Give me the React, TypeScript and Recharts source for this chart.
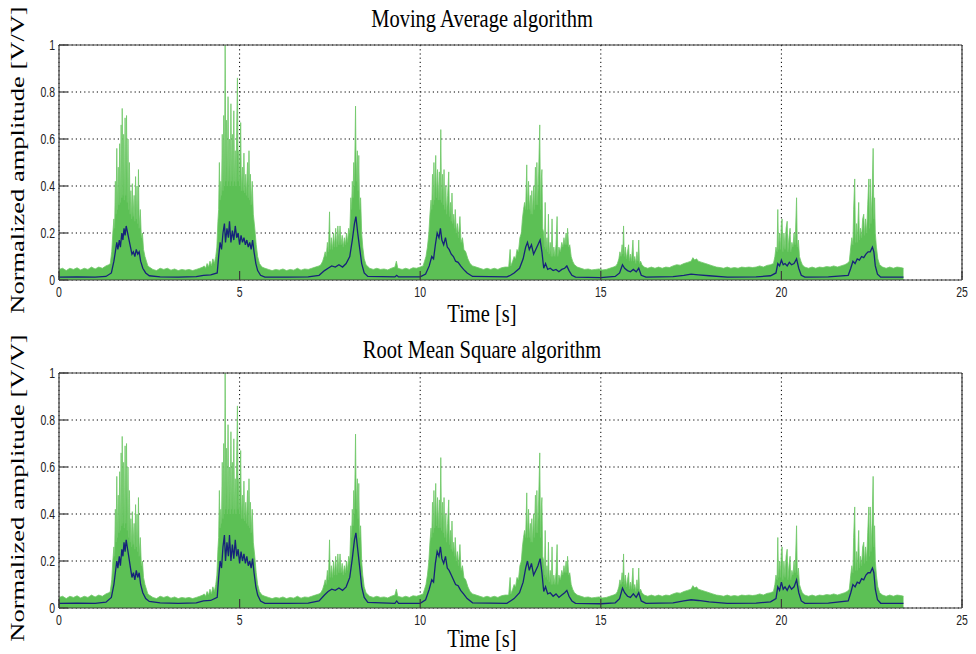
import React from 'react';
import { ComposedChart, Area, Line, XAxis, YAxis, CartesianGrid } from 'recharts';

type P = [number, number];

const timeTicks = [0, 5, 10, 15, 20, 25];
const ampTicks = [0, 0.2, 0.4, 0.6, 0.8, 1];
const panelTitles = ['Moving Average algorithm', 'Root Mean Square algorithm'];
const xLabel = 'Time [s]';
const yLabel = 'Normalized amplitude [V/V]';

// rectified EMG (green), segment by segment
const rest0: P[] = [[0,0.045],[0.1,0.05],[0.2,0.04],[0.3,0.05],[0.4,0.045],[0.5,0.052],[0.6,0.043],[0.7,0.05],[0.8,0.045],[0.9,0.055],[1.0,0.047],[1.1,0.055],[1.2,0.05],[1.3,0.06],[1.38,0.065]];
const burst1: P[] = [[1.42,0.07],[1.46,0.12],[1.49,0.2],[1.52,0.26],[1.54,0.22],[1.56,0.42],[1.58,0.28],[1.6,0.56],[1.62,0.3],[1.64,0.48],[1.66,0.32],[1.68,0.58],[1.7,0.33],[1.72,0.66],[1.74,0.35],[1.75,0.73],[1.77,0.36],[1.79,0.62],[1.81,0.34],[1.83,0.69],[1.85,0.36],[1.87,0.7],[1.89,0.33],[1.91,0.6],[1.93,0.3],[1.95,0.5],[1.97,0.28],[1.99,0.38],[2.01,0.26],[2.03,0.41],[2.05,0.27],[2.08,0.36],[2.1,0.25],[2.12,0.44],[2.14,0.26],[2.16,0.4],[2.18,0.24],[2.2,0.47],[2.22,0.22],[2.25,0.3],[2.28,0.18],[2.31,0.2],[2.34,0.13],[2.38,0.1],[2.42,0.08],[2.46,0.06],[2.5,0.055]];
const rest1: P[] = [[2.6,0.045],[2.7,0.04],[2.8,0.05],[2.9,0.045],[3.0,0.05],[3.1,0.042],[3.2,0.047],[3.3,0.04],[3.4,0.045],[3.5,0.042],[3.6,0.045],[3.7,0.04],[3.8,0.045],[3.9,0.05],[3.98,0.055]];
const burst2: P[] = [[4.02,0.06],[4.06,0.05],[4.1,0.07],[4.14,0.055],[4.18,0.08],[4.22,0.06],[4.26,0.09],[4.3,0.07],[4.34,0.1],[4.37,0.14],[4.4,0.25],[4.42,0.3],[4.44,0.5],[4.46,0.34],[4.48,0.42],[4.5,0.36],[4.52,0.62],[4.54,0.38],[4.56,0.7],[4.58,0.4],[4.6,1.0],[4.62,0.42],[4.64,0.68],[4.66,0.4],[4.68,0.78],[4.7,0.42],[4.72,0.6],[4.74,0.4],[4.76,0.75],[4.78,0.42],[4.8,0.62],[4.82,0.4],[4.84,0.72],[4.86,0.42],[4.88,0.55],[4.9,0.4],[4.92,0.65],[4.94,0.86],[4.96,0.42],[4.98,0.55],[5.0,0.4],[5.03,0.67],[5.05,0.38],[5.08,0.48],[5.1,0.38],[5.12,0.54],[5.14,0.37],[5.17,0.45],[5.19,0.36],[5.22,0.5],[5.24,0.35],[5.26,0.55],[5.28,0.34],[5.3,0.45],[5.32,0.32],[5.35,0.42],[5.38,0.28],[5.42,0.22],[5.46,0.15],[5.5,0.1],[5.55,0.07],[5.62,0.055],[5.7,0.05]];
const rest2: P[] = [[5.8,0.045],[5.9,0.04],[6.0,0.045],[6.1,0.042],[6.2,0.047],[6.3,0.04],[6.4,0.045],[6.5,0.042],[6.6,0.05],[6.7,0.042],[6.8,0.047],[6.9,0.045],[7.0,0.05],[7.1,0.055],[7.2,0.06]];
const burst3: P[] = [[7.25,0.065],[7.3,0.08],[7.34,0.1],[7.37,0.12],[7.4,0.1],[7.43,0.16],[7.46,0.12],[7.49,0.29],[7.51,0.13],[7.54,0.18],[7.57,0.13],[7.6,0.2],[7.63,0.14],[7.66,0.22],[7.69,0.14],[7.72,0.23],[7.75,0.15],[7.78,0.23],[7.81,0.15],[7.84,0.19],[7.87,0.14],[7.9,0.18],[7.93,0.15],[7.96,0.2],[7.99,0.16],[8.02,0.22],[8.05,0.2],[8.08,0.35],[8.1,0.3],[8.12,0.42],[8.14,0.35],[8.16,0.5],[8.18,0.4],[8.21,0.74],[8.23,0.42],[8.26,0.55],[8.28,0.38],[8.3,0.53],[8.32,0.3],[8.35,0.35],[8.38,0.2],[8.41,0.14],[8.45,0.09],[8.5,0.065]];
const rest3: P[] = [[8.6,0.05],[8.7,0.045],[8.8,0.05],[8.9,0.045],[9.0,0.047],[9.1,0.043],[9.2,0.05],[9.3,0.055],[9.34,0.08],[9.38,0.05],[9.5,0.045],[9.6,0.05],[9.7,0.045],[9.8,0.052],[9.9,0.05],[10.0,0.055]];
const burst4: P[] = [[10.08,0.06],[10.12,0.08],[10.16,0.1],[10.2,0.14],[10.24,0.2],[10.27,0.28],[10.3,0.34],[10.32,0.3],[10.34,0.45],[10.36,0.32],[10.38,0.5],[10.4,0.34],[10.43,0.53],[10.45,0.35],[10.48,0.47],[10.5,0.34],[10.53,0.46],[10.55,0.34],[10.57,0.64],[10.59,0.33],[10.62,0.45],[10.64,0.32],[10.66,0.47],[10.68,0.3],[10.71,0.4],[10.73,0.28],[10.76,0.36],[10.79,0.46],[10.81,0.27],[10.84,0.33],[10.86,0.25],[10.88,0.37],[10.9,0.24],[10.93,0.28],[10.95,0.22],[10.97,0.3],[11.0,0.2],[11.03,0.24],[11.06,0.18],[11.1,0.27],[11.13,0.16],[11.17,0.18],[11.21,0.13],[11.26,0.12],[11.32,0.09],[11.38,0.07],[11.45,0.06],[11.55,0.055]];
const rest4: P[] = [[11.65,0.05],[11.75,0.045],[11.85,0.05],[11.95,0.045],[12.05,0.05],[12.15,0.045],[12.25,0.052],[12.35,0.055]];
const burst5: P[] = [[12.45,0.055],[12.49,0.13],[12.51,0.06],[12.56,0.08],[12.6,0.1],[12.64,0.09],[12.68,0.13],[12.72,0.12],[12.76,0.18],[12.8,0.2],[12.83,0.26],[12.86,0.3],[12.89,0.33],[12.92,0.3],[12.95,0.49],[12.97,0.3],[13.0,0.42],[13.02,0.3],[13.05,0.36],[13.07,0.28],[13.09,0.38],[13.11,0.28],[13.14,0.4],[13.16,0.3],[13.19,0.48],[13.21,0.32],[13.23,0.5],[13.25,0.32],[13.28,0.46],[13.31,0.66],[13.33,0.3],[13.35,0.42],[13.37,0.47],[13.39,0.22],[13.42,0.2],[13.44,0.14],[13.46,0.33],[13.48,0.13],[13.51,0.18],[13.53,0.12],[13.55,0.28],[13.57,0.11],[13.6,0.16],[13.63,0.1],[13.65,0.26],[13.67,0.1],[13.7,0.14],[13.73,0.1],[13.76,0.15],[13.79,0.27],[13.81,0.1],[13.84,0.14],[13.88,0.12],[13.92,0.16],[13.95,0.14],[13.98,0.18],[14.01,0.15],[14.04,0.2],[14.06,0.15],[14.08,0.22],[14.11,0.14],[14.14,0.15],[14.18,0.1],[14.22,0.08],[14.27,0.065],[14.35,0.055]];
const rest5: P[] = [[14.45,0.05],[14.55,0.045],[14.65,0.047],[14.75,0.043],[14.85,0.045],[14.95,0.047],[15.05,0.043],[15.15,0.045],[15.25,0.05],[15.35,0.055]];
const burst6: P[] = [[15.42,0.06],[15.46,0.07],[15.5,0.09],[15.53,0.12],[15.56,0.1],[15.59,0.15],[15.61,0.11],[15.63,0.23],[15.65,0.1],[15.68,0.14],[15.71,0.09],[15.74,0.12],[15.77,0.15],[15.79,0.08],[15.82,0.11],[15.85,0.08],[15.89,0.17],[15.91,0.08],[15.94,0.1],[15.97,0.07],[16.0,0.12],[16.03,0.08],[16.05,0.17],[16.07,0.07],[16.1,0.08],[16.14,0.065],[16.2,0.055]];
const rest6: P[] = [[16.3,0.05],[16.4,0.055],[16.5,0.05],[16.6,0.055],[16.7,0.05],[16.8,0.055],[16.9,0.053],[17.0,0.06],[17.1,0.065],[17.2,0.063],[17.3,0.07],[17.4,0.075],[17.5,0.08],[17.55,0.095],[17.6,0.085],[17.65,0.09],[17.7,0.08],[17.8,0.075],[17.9,0.07],[18.0,0.065],[18.1,0.06],[18.2,0.055],[18.3,0.053],[18.4,0.05],[18.5,0.055],[18.6,0.05],[18.7,0.053],[18.8,0.05],[18.9,0.055],[19.0,0.053],[19.1,0.055],[19.2,0.053],[19.3,0.055],[19.4,0.06],[19.5,0.055],[19.6,0.062],[19.7,0.065]];
const burst7: P[] = [[19.78,0.07],[19.82,0.1],[19.85,0.14],[19.88,0.12],[19.9,0.3],[19.92,0.13],[19.95,0.2],[19.97,0.13],[20.0,0.24],[20.02,0.26],[20.04,0.12],[20.07,0.2],[20.1,0.13],[20.13,0.22],[20.16,0.25],[20.18,0.12],[20.21,0.18],[20.24,0.22],[20.26,0.12],[20.29,0.16],[20.32,0.14],[20.35,0.2],[20.38,0.15],[20.42,0.35],[20.44,0.14],[20.47,0.17],[20.5,0.1],[20.54,0.08],[20.58,0.065],[20.64,0.055]];
const rest7: P[] = [[20.75,0.05],[20.85,0.055],[20.95,0.05],[21.05,0.055],[21.15,0.053],[21.25,0.057],[21.35,0.055],[21.45,0.06],[21.55,0.055],[21.65,0.06],[21.75,0.065],[21.82,0.07]];
const burst8: P[] = [[21.88,0.08],[21.92,0.14],[21.95,0.18],[21.98,0.15],[22.0,0.3],[22.03,0.43],[22.05,0.16],[22.08,0.24],[22.1,0.16],[22.14,0.33],[22.16,0.17],[22.19,0.22],[22.22,0.18],[22.25,0.26],[22.28,0.28],[22.3,0.19],[22.33,0.26],[22.36,0.2],[22.39,0.32],[22.42,0.43],[22.44,0.22],[22.46,0.43],[22.48,0.24],[22.51,0.36],[22.54,0.56],[22.56,0.26],[22.58,0.35],[22.6,0.2],[22.63,0.14],[22.67,0.09],[22.72,0.065]];
const rest8: P[] = [[22.8,0.055],[22.9,0.05],[23.0,0.055],[23.1,0.05],[23.2,0.055],[23.3,0.053],[23.38,0.05]];

// envelope from the Moving Average algorithm (top panel, blue)
const movingAvg: P[] = [[0,0.012],[0.5,0.013],[1.0,0.012],[1.3,0.015],[1.45,0.03],[1.52,0.08],[1.56,0.12],[1.6,0.16],[1.63,0.13],[1.67,0.17],[1.7,0.14],[1.74,0.2],[1.77,0.17],[1.8,0.22],[1.83,0.19],[1.86,0.23],[1.9,0.2],[1.94,0.17],[1.98,0.14],[2.02,0.11],[2.06,0.12],[2.1,0.1],[2.14,0.13],[2.18,0.11],[2.22,0.12],[2.26,0.08],[2.32,0.05],[2.4,0.03],[2.5,0.018],[2.8,0.013],[3.3,0.012],[3.8,0.014],[4.0,0.02],[4.2,0.022],[4.38,0.03],[4.42,0.1],[4.46,0.16],[4.5,0.13],[4.54,0.2],[4.58,0.24],[4.61,0.16],[4.65,0.22],[4.69,0.18],[4.72,0.25],[4.76,0.16],[4.8,0.21],[4.84,0.17],[4.88,0.23],[4.92,0.18],[4.96,0.2],[5.0,0.15],[5.04,0.19],[5.08,0.16],[5.12,0.18],[5.16,0.15],[5.2,0.17],[5.24,0.14],[5.28,0.16],[5.32,0.13],[5.36,0.17],[5.4,0.12],[5.45,0.07],[5.5,0.04],[5.58,0.02],[5.7,0.012],[6.3,0.012],[6.9,0.013],[7.2,0.02],[7.35,0.04],[7.45,0.05],[7.55,0.06],[7.65,0.055],[7.75,0.065],[7.85,0.055],[7.95,0.07],[8.05,0.1],[8.12,0.17],[8.18,0.24],[8.22,0.27],[8.27,0.2],[8.32,0.14],[8.38,0.07],[8.45,0.03],[8.55,0.015],[9.3,0.013],[9.35,0.02],[9.4,0.013],[10.0,0.013],[10.15,0.025],[10.25,0.06],[10.32,0.1],[10.37,0.09],[10.42,0.15],[10.47,0.2],[10.52,0.18],[10.56,0.22],[10.6,0.17],[10.65,0.15],[10.7,0.18],[10.75,0.14],[10.8,0.13],[10.86,0.11],[10.92,0.1],[10.98,0.08],[11.05,0.075],[11.12,0.06],[11.2,0.045],[11.3,0.03],[11.45,0.015],[12.4,0.013],[12.5,0.02],[12.6,0.03],[12.75,0.05],[12.85,0.09],[12.92,0.14],[12.97,0.16],[13.02,0.13],[13.08,0.15],[13.14,0.11],[13.2,0.13],[13.26,0.15],[13.32,0.17],[13.37,0.12],[13.42,0.05],[13.47,0.07],[13.53,0.045],[13.6,0.05],[13.68,0.04],[13.76,0.045],[13.84,0.035],[13.92,0.045],[14.0,0.05],[14.06,0.06],[14.12,0.04],[14.2,0.02],[14.3,0.012],[15.0,0.01],[15.4,0.015],[15.52,0.03],[15.6,0.065],[15.66,0.05],[15.74,0.04],[15.82,0.035],[15.9,0.045],[15.98,0.035],[16.05,0.05],[16.12,0.02],[16.25,0.012],[17.0,0.014],[17.3,0.02],[17.5,0.025],[17.7,0.022],[18.0,0.018],[18.5,0.012],[19.3,0.013],[19.7,0.018],[19.85,0.03],[19.9,0.07],[19.95,0.06],[20.0,0.085],[20.05,0.065],[20.1,0.07],[20.16,0.06],[20.22,0.075],[20.28,0.065],[20.35,0.07],[20.42,0.09],[20.48,0.05],[20.55,0.02],[20.65,0.012],[21.3,0.013],[21.85,0.02],[21.92,0.05],[21.98,0.08],[22.04,0.07],[22.1,0.09],[22.16,0.085],[22.22,0.1],[22.28,0.095],[22.34,0.11],[22.4,0.12],[22.46,0.12],[22.52,0.14],[22.56,0.12],[22.6,0.06],[22.66,0.025],[22.75,0.012],[23.38,0.012]];

// envelope from the Root Mean Square algorithm (bottom panel, blue)
const rmsEnv: P[] = [[0,0.02],[0.5,0.021],[1.0,0.02],[1.3,0.025],[1.45,0.045],[1.52,0.1],[1.56,0.15],[1.6,0.2],[1.63,0.17],[1.67,0.22],[1.7,0.18],[1.74,0.25],[1.77,0.22],[1.8,0.28],[1.83,0.24],[1.86,0.29],[1.9,0.25],[1.94,0.21],[1.98,0.17],[2.02,0.13],[2.06,0.15],[2.1,0.12],[2.14,0.16],[2.18,0.13],[2.22,0.15],[2.26,0.1],[2.32,0.065],[2.4,0.04],[2.5,0.028],[2.8,0.022],[3.3,0.02],[3.8,0.022],[4.0,0.03],[4.2,0.032],[4.38,0.045],[4.42,0.13],[4.46,0.2],[4.5,0.17],[4.54,0.26],[4.58,0.31],[4.61,0.2],[4.65,0.28],[4.69,0.22],[4.72,0.31],[4.76,0.2],[4.8,0.27],[4.84,0.21],[4.88,0.29],[4.92,0.22],[4.96,0.25],[5.0,0.19],[5.04,0.24],[5.08,0.2],[5.12,0.23],[5.16,0.19],[5.2,0.22],[5.24,0.18],[5.28,0.2],[5.32,0.17],[5.36,0.21],[5.4,0.15],[5.45,0.09],[5.5,0.055],[5.58,0.03],[5.7,0.02],[6.3,0.02],[6.9,0.021],[7.2,0.03],[7.35,0.055],[7.45,0.07],[7.55,0.08],[7.65,0.075],[7.75,0.085],[7.85,0.075],[7.95,0.09],[8.05,0.13],[8.12,0.21],[8.18,0.29],[8.22,0.32],[8.27,0.25],[8.32,0.18],[8.38,0.09],[8.45,0.045],[8.55,0.024],[9.3,0.02],[9.35,0.03],[9.4,0.02],[10.0,0.02],[10.15,0.035],[10.25,0.08],[10.32,0.12],[10.37,0.11],[10.42,0.19],[10.47,0.24],[10.52,0.22],[10.56,0.26],[10.6,0.21],[10.65,0.19],[10.7,0.22],[10.75,0.17],[10.8,0.16],[10.86,0.14],[10.92,0.12],[10.98,0.1],[11.05,0.095],[11.12,0.075],[11.2,0.06],[11.3,0.04],[11.45,0.022],[12.4,0.02],[12.5,0.03],[12.6,0.04],[12.75,0.065],[12.85,0.11],[12.92,0.17],[12.97,0.2],[13.02,0.16],[13.08,0.19],[13.14,0.14],[13.2,0.16],[13.26,0.18],[13.32,0.21],[13.37,0.15],[13.42,0.07],[13.47,0.09],[13.53,0.06],[13.6,0.065],[13.68,0.05],[13.76,0.06],[13.84,0.045],[13.92,0.055],[14.0,0.065],[14.06,0.075],[14.12,0.05],[14.2,0.03],[14.3,0.02],[15.0,0.018],[15.4,0.022],[15.52,0.04],[15.6,0.085],[15.66,0.065],[15.74,0.05],[15.82,0.045],[15.9,0.06],[15.98,0.045],[16.05,0.065],[16.12,0.03],[16.25,0.02],[17.0,0.022],[17.3,0.03],[17.5,0.035],[17.7,0.032],[18.0,0.026],[18.5,0.02],[19.3,0.021],[19.7,0.026],[19.85,0.04],[19.9,0.09],[19.95,0.075],[20.0,0.11],[20.05,0.08],[20.1,0.09],[20.16,0.075],[20.22,0.095],[20.28,0.08],[20.35,0.09],[20.42,0.12],[20.48,0.065],[20.55,0.03],[20.65,0.02],[21.3,0.021],[21.85,0.03],[21.92,0.065],[21.98,0.1],[22.04,0.09],[22.1,0.11],[22.16,0.105],[22.22,0.125],[22.28,0.12],[22.34,0.14],[22.4,0.15],[22.46,0.15],[22.52,0.17],[22.56,0.15],[22.6,0.08],[22.66,0.035],[22.75,0.02],[23.38,0.02]];

const emgRaw: P[] = [
  ...rest0, ...burst1, ...rest1, ...burst2, ...rest2, ...burst3, ...rest3, ...burst4,
  ...rest4, ...burst5, ...rest5, ...burst6, ...rest6, ...burst7, ...rest7, ...burst8, ...rest8,
];

const toRows = (pts: P[]) => pts.map(([t, v]) => ({ t, v }));
const emgRows = toRows(emgRaw);
const envelopes = [toRows(movingAvg), toRows(rmsEnv)];

const W = 976;
const PANEL_H = 327;
const SQUISH = 0.82;
const AXIS = '#3c3c3c';

const fmtAmp = (v: number) => (v === 0 ? '0' : v === 1 ? '1' : v.toFixed(1));

const XTick = (props: any) => {
  const { x, y, payload } = props;
  return (
    <g transform={`translate(${x},${y})`}>
      <text transform="scale(0.7,1)" textAnchor="middle" dy="0.71em" fontSize={15}
        fontFamily="'Liberation Sans', Arial, sans-serif" fill="#222">{payload.value}</text>
    </g>
  );
};
const YTick = (props: any) => {
  const { x, y, payload } = props;
  return (
    <g transform={`translate(${x},${y})`}>
      <text transform="scale(0.7,1)" textAnchor="end" dy="0.36em" fontSize={15}
        fontFamily="'Liberation Sans', Arial, sans-serif" fill="#222">{fmtAmp(payload.value)}</text>
    </g>
  );
};

function Panel({ env, topH, bottomH }: { env: { t: number; v: number }[]; topH: number; bottomH: number }) {
  return (
    <ComposedChart width={W} height={PANEL_H} margin={{ top: 0, right: 0, bottom: 0, left: 0 }}>
      <CartesianGrid stroke="#000" strokeDasharray="1.2 3" strokeWidth={1} />
      <XAxis type="number" dataKey="t" domain={[0, 25]} ticks={timeTicks} interval={0} allowDataOverflow
        height={bottomH} tickSize={-9} tickMargin={15} axisLine={{ stroke: AXIS, strokeWidth: 1.2 }}
        tickLine={{ stroke: AXIS, strokeWidth: 1.2 }} tick={<XTick />} />
      <XAxis xAxisId="top" orientation="top" type="number" dataKey="t" domain={[0, 25]} ticks={timeTicks}
        interval={0} allowDataOverflow height={topH} tickSize={-9} axisLine={{ stroke: AXIS, strokeWidth: 1.2 }}
        tickLine={{ stroke: AXIS, strokeWidth: 1.2 }} tick={false} />
      <YAxis type="number" domain={[0, 1]} ticks={ampTicks} interval={0} allowDataOverflow width={59}
        tickSize={-9} tickMargin={13} axisLine={{ stroke: AXIS, strokeWidth: 1.2 }}
        tickLine={{ stroke: AXIS, strokeWidth: 1.2 }} tick={<YTick />} />
      <YAxis yAxisId="right" orientation="right" type="number" domain={[0, 1]} ticks={ampTicks} interval={0}
        allowDataOverflow width={14} tickSize={-9} axisLine={{ stroke: AXIS, strokeWidth: 1.2 }}
        tickLine={{ stroke: AXIS, strokeWidth: 1.2 }} tick={false} />
      <Area data={emgRows} dataKey="v" type="linear" baseValue={0} fill="#5cc055" fillOpacity={1}
        stroke="#70c868" strokeWidth={0.8} isAnimationActive={false} dot={false} activeDot={false} />
      <Line data={env} dataKey="v" type="linear" stroke="#16237a" strokeWidth={1.3}
        isAnimationActive={false} dot={false} activeDot={false} />
    </ComposedChart>
  );
}

const serif = "'Liberation Serif', 'Times New Roman', serif";

export default function App() {
  const labels = [
    { titleY: 27, xLabY: 322, yLabCy: 160 },
    { titleY: 358, xLabY: 647, yLabCy: 488 },
  ];
  return (
    <div style={{ position: 'absolute', left: 0, top: 0, width: W, height: 654, background: '#fff' }}>
      <Panel env={envelopes[0]} topH={45} bottomH={47} />
      <Panel env={envelopes[1]} topH={46} bottomH={46} />
      <svg width={W} height={654} style={{ position: 'absolute', left: 0, top: 0, pointerEvents: 'none' }}>
        {labels.map((l, i) => (
          <g key={i} fontFamily={serif} fill="#000">
            <text transform={`translate(482,${l.titleY}) scale(${SQUISH},1)`} textAnchor="middle" fontSize={25}>
              {panelTitles[i]}
            </text>
            <text transform={`translate(482,${l.xLabY}) scale(${SQUISH},1)`} textAnchor="middle" fontSize={25}>
              {xLabel}
            </text>
            <text transform={`translate(24,${l.yLabCy}) scale(0.75,1) rotate(-90)`} textAnchor="middle" fontSize={26.5}>
              {yLabel}
            </text>
          </g>
        ))}
      </svg>
    </div>
  );
}
